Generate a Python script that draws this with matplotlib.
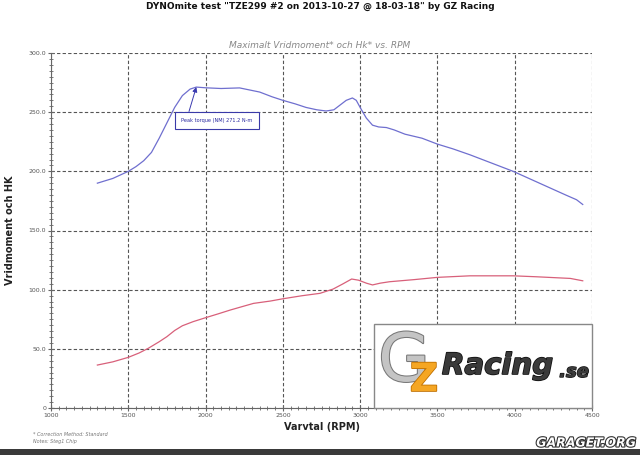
import matplotlib.pyplot as plt
import matplotlib.patheffects as pe
from matplotlib.patches import Rectangle
from matplotlib.ticker import MultipleLocator

# torque curve (Nm)
rpm_tq = [1300, 1400, 1500, 1550, 1600, 1650, 1700, 1750, 1800, 1850, 1900, 1940,
          2000, 2100, 2220, 2350, 2430, 2500, 2580, 2650, 2720, 2780, 2830, 2870,
          2910, 2950, 2975, 3000, 3040, 3080, 3120, 3170, 3220, 3290, 3400, 3500,
          3600, 3710, 3850, 3990, 4160, 4330, 4400, 4440]
torque = [190, 194, 200, 204, 209, 216, 228, 241, 254, 264, 269.5, 271.2,
          270.6, 270, 270.5, 267, 263, 260, 257, 254, 252, 251, 252, 256,
          260, 262, 260, 254, 245, 239, 237.5, 237, 235, 231.4, 228, 223,
          219, 214, 207, 200, 190, 180, 176, 172]

# power curve (hk)
rpm_hp = [1300, 1400, 1500, 1570, 1630, 1700, 1750, 1800, 1850, 1920, 2000, 2080,
          2160, 2240, 2310, 2420, 2500, 2620, 2740, 2825, 2890, 2945, 2990, 3040,
          3080, 3130, 3190, 3350, 3500, 3710, 3990, 4140, 4360, 4440]
power = [36.3, 39, 42.8, 46.5, 50.5, 56, 60.3, 65.5, 69.5, 73, 76.3, 79.5,
         82.8, 85.8, 88.4, 90.4, 92.3, 94.8, 96.9, 100.5, 105, 109, 108, 105.5,
         104, 105.5, 106.7, 108.5, 110.4, 111.7, 111.7, 110.9, 109.5, 107.5]

peak_rpm = 1940
peak_tq = 271.2

fig = plt.figure(figsize=(6.4, 4.55), dpi=100)
ax = fig.add_axes([51/640, 1-408/455, 541/640, 355/455])

ax.plot(rpm_tq, torque, color='#6f6fcf', lw=0.9)
ax.plot(rpm_hp, power, color='#d8607a', lw=0.9)

ax.set_xlim(1000, 4500)
ax.set_ylim(0, 300)
ax.xaxis.set_major_locator(MultipleLocator(500))
ax.xaxis.set_minor_locator(MultipleLocator(50))
ax.yaxis.set_major_locator(MultipleLocator(50))
ax.yaxis.set_minor_locator(MultipleLocator(5))
ax.yaxis.set_major_formatter(lambda v, p: f'{v:.1f}' if v > 0 else '0')
ax.grid(True, which='major', color='#555555', ls=(0, (3, 2)), lw=0.8)
for s in ['top', 'right']:
    ax.spines[s].set_visible(False)
for s in ['left', 'bottom']:
    ax.spines[s].set_color('#666666')
    ax.spines[s].set_linewidth(0.8)
ax.tick_params(which='both', direction='inout', colors='#666666', labelsize=4.5,
               labelcolor='#555555')
ax.tick_params(which='major', length=5)
ax.tick_params(which='minor', length=3)
ax.tick_params(axis='x', pad=1)
ax.tick_params(axis='y', pad=1)

ax.set_xlabel('Varvtal (RPM)', fontsize=7, fontweight='bold', color='#222222', labelpad=3)
ax.set_ylabel('Vridmoment och HK', fontsize=7, fontweight='bold', color='#222222', labelpad=10)

# peak torque annotation
ax.annotate('Peak torque (NM) 271.2 N-m', xy=(peak_rpm, peak_tq), xytext=(2074, 243),
            fontsize=3.6, color='#2a2aa0', ha='center', va='center',
            bbox=dict(boxstyle='square,pad=1.2', fc='white', ec='#3a3aa8', lw=0.8),
            arrowprops=dict(arrowstyle='-|>', color='#3a3ab0', lw=0.7,
                            mutation_scale=7, shrinkA=0, shrinkB=0,
                            relpos=(0.08, 1.0)))

fig.text(0.5, 1-6/455, 'DYNOmite test "TZE299 #2 on 2013-10-27 @ 18-03-18" by GZ Racing',
         ha='center', va='center', fontsize=6.5, fontweight='bold', color='#111111')
fig.text(0.5, 1-45/455, 'Maximalt Vridmoment* och Hk* vs. RPM', ha='center', va='center',
         fontsize=6.5, style='italic', color='#888888')
fig.text(33/640, 1-434/455, '* Correction Method: Standard', fontsize=3.5, style='italic',
         color='#777777', va='center')
fig.text(33/640, 1-442/455, 'Notes: Steg1 Chip', fontsize=3.5, style='italic',
         color='#777777', va='center')

# logo box
fig.patches.append(Rectangle((374/640, 1-408/455), 218/640, 84/455, transform=fig.transFigure,
                             fc='white', ec='#888888', lw=1.0, zorder=5))
fig.text(404/640, 1-362/455, 'G', fontsize=48, color='#c4c4c4', ha='center', va='center',
         zorder=6, path_effects=[pe.withStroke(linewidth=1.5, foreground='#777777')])
fig.text(424/640, 1-380/455, 'Z', fontsize=28, color='#f5a623', ha='center', va='center',
         fontweight='bold', zorder=7,
         path_effects=[pe.withStroke(linewidth=1.2, foreground='#c07000')])
fig.text(442/640, 1-366/455, 'Racing', fontsize=21, color='#3a3a3a', ha='left',
         va='center', style='italic', fontweight='heavy', zorder=8,
         path_effects=[pe.withStroke(linewidth=1.2, foreground='#111111')])
fig.text(589/640, 1-372/455, '.se', fontsize=13, color='#3a3a3a', ha='right',
         va='center', style='italic', fontweight='heavy', zorder=8,
         path_effects=[pe.withStroke(linewidth=1, foreground='#111111')])

# watermark and bottom bar
fig.text(586/640, 1-443/455, 'GARAGET.ORG', fontsize=9, color='white', ha='center',
         va='center', style='italic', fontweight='bold',
         path_effects=[pe.withStroke(linewidth=1.6, foreground='#333333')])
fig.patches.append(Rectangle((0, 0), 1, 6/455, transform=fig.transFigure,
                             fc='#3a3a3a', ec='none'))

fig.savefig('out.png', dpi=100)
